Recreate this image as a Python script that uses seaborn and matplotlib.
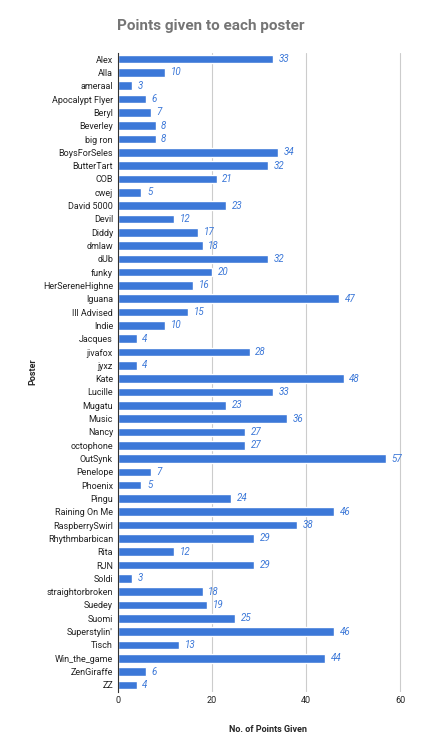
import pandas as pd
import matplotlib.pyplot as plt
import seaborn as sns

posters = ["Alex", "Alla", "ameraal", "Apocalypt Flyer", "Beryl", "Beverley", "big ron",
           "BoysForSeles", "ButterTart", "COB", "cwej", "David 5000", "Devil", "Diddy",
           "dmlaw", "dUb", "funky", "HerSereneHighne", "Iguana", "Ill Advised", "Indie",
           "Jacques", "jivafox", "jyxz", "Kate", "Lucille", "Mugatu", "Music", "Nancy",
           "octophone", "OutSynk", "Penelope", "Phoenix", "Pingu", "Raining On Me",
           "RaspberrySwirl", "Rhythmbarbican", "Rita", "RJN", "Soldi", "straightorbroken",
           "Suedey", "Suomi", "Superstylin'", "Tisch", "Win_the_game", "ZenGiraffe", "ZZ"]
points = [33, 10, 3, 6, 7, 8, 8, 34, 32, 21, 5, 23, 12, 17, 18, 32, 20, 16, 47, 15, 10,
          4, 28, 4, 48, 33, 23, 36, 27, 27, 57, 7, 5, 24, 46, 38, 29, 12, 29, 3, 18, 19,
          25, 46, 13, 44, 6, 4]

df = pd.DataFrame({"Poster": posters, "Points": points})

sns.set_style("white")
plt.rcParams['font.family'] = ['Roboto', 'DejaVu Sans']

fig, ax = plt.subplots(figsize=(4.21, 7.5), dpi=100)
sns.barplot(data=df, x="Points", y="Poster", color="#3c78d8", width=0.65, ax=ax, saturation=1)

for i, v in enumerate(points):
    ax.text(v + 1.2, i, str(v), va="center", ha="left", fontsize=7, style="italic", color="#3c78d8")

ax.set_xlim(0, 64)
ax.set_xticks([0, 20, 40, 60])
ax.xaxis.grid(True, color="#cccccc", linewidth=0.8)
ax.set_axisbelow(True)
for s in ["top", "right", "bottom"]:
    ax.spines[s].set_visible(False)
ax.spines["left"].set_color("#333333")
ax.tick_params(axis="both", labelsize=6.5, length=0, colors="#222222")
ax.set_xlabel("No. of Points Given", fontsize=6.5, weight="bold", labelpad=14)
ax.set_ylabel("Poster", fontsize=6.5, weight="bold")
fig.suptitle("Points given to each poster", fontsize=11, weight="bold", color="#757575", y=0.975)

plt.subplots_adjust(left=0.28, right=0.995, top=0.93, bottom=0.078)
plt.savefig("out.png", dpi=100)
